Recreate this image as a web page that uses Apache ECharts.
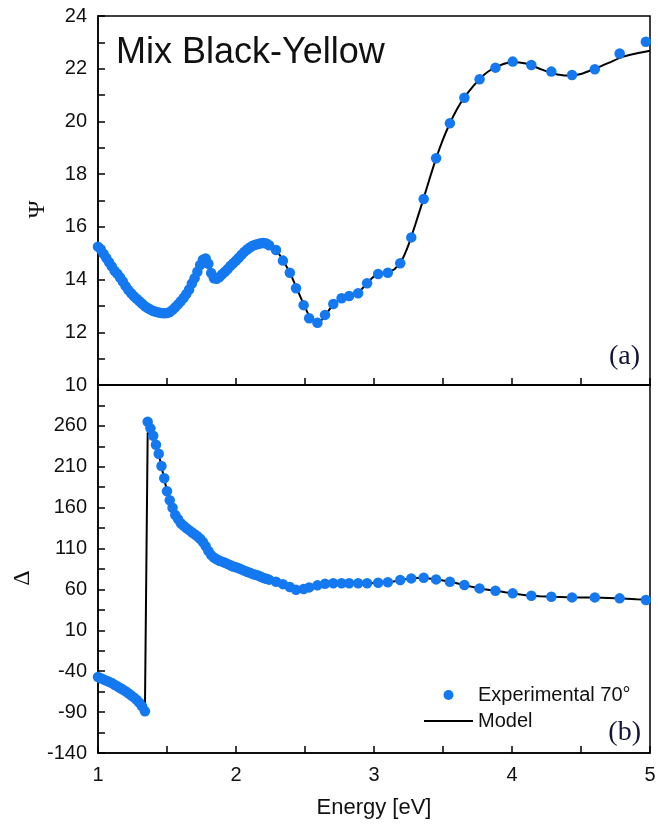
<!DOCTYPE html>
<html>
<head>
<meta charset="utf-8">
<script src="https://cdn.jsdelivr.net/npm/echarts@6/dist/echarts.min.js"></script>
<style>
  html, body { margin: 0; padding: 0; background: #fff; }
  #chart { width: 658px; height: 835px; }
</style>
</head>
<body>
<div id="chart"></div>
<script>
// experimental points, photon energy in eV (shared by both panels)
const energy = [
  1.00, 1.02, 1.04, 1.06, 1.08, 1.10, 1.12, 1.14, 1.16, 1.18, 1.20, 1.22, 1.24, 1.26, 1.28, 1.30,
  1.32, 1.34, 1.36, 1.38, 1.40, 1.42, 1.44, 1.46, 1.48, 1.50, 1.52, 1.54, 1.56, 1.58, 1.60, 1.62,
  1.64, 1.66, 1.68, 1.70, 1.72, 1.74, 1.76, 1.78, 1.80, 1.82, 1.84, 1.86, 1.88, 1.90, 1.92, 1.94,
  1.96, 1.98, 2.00, 2.02, 2.04, 2.06, 2.08, 2.10, 2.12, 2.14, 2.16, 2.18, 2.20, 2.22, 2.24,
  2.29, 2.34, 2.39, 2.435, 2.49, 2.53, 2.59, 2.645, 2.705, 2.765, 2.82, 2.885, 2.95, 3.03, 3.10,
  3.19, 3.27, 3.36, 3.45, 3.55, 3.655, 3.765, 3.88, 4.005, 4.14, 4.285, 4.435, 4.60, 4.78, 4.97
];
const psi = [
  15.25, 15.15, 14.98, 14.82, 14.66, 14.50, 14.33, 14.22, 14.08, 13.93, 13.75, 13.60, 13.48, 13.37, 13.27, 13.18,
  13.08, 12.99, 12.92, 12.86, 12.81, 12.78, 12.75, 12.73, 12.72, 12.73, 12.77, 12.85, 12.95, 13.06, 13.18, 13.30,
  13.45, 13.62, 13.85, 14.05, 14.30, 14.55, 14.75, 14.80, 14.60, 14.25, 14.05, 14.03, 14.10, 14.20, 14.30, 14.40,
  14.52, 14.62, 14.72, 14.83, 14.94, 15.05, 15.14, 15.22, 15.28, 15.32, 15.35, 15.38, 15.39, 15.37, 15.30,
  15.12, 14.72, 14.26, 13.67, 13.03, 12.53, 12.36, 12.66, 13.07, 13.29, 13.38, 13.48, 13.86, 14.21, 14.26,
  14.62, 15.60, 17.06, 18.60, 19.93, 20.90, 21.60, 22.04, 22.27, 22.14, 21.89, 21.76, 21.98, 22.58, 23.02
];
const delta = [
  -47, -48.5, -50, -51.5, -53, -54.5, -56.5, -58.5, -60.5, -62.5, -64.5, -67, -69.5, -72, -75, -78.5,
  -83, -89, 265, 257, 248, 237, 226, 211, 196, 180, 169, 160, 151, 146, 141, 138,
  135, 132.5, 130, 127.5, 125, 122, 118, 113, 107, 102, 99, 97, 95, 94, 92.5, 91,
  89.5, 88, 87, 86, 84.5, 83, 81.5, 80.5, 79, 78, 77, 75.5, 74, 73, 72,
  69.5, 66.5, 63, 59.5, 60.5, 62.5, 65, 67, 67.5, 67.5, 67.5, 67.5, 67.5, 68.2, 68.7,
  71.5, 73.5, 74.3, 72.3, 69.4, 65.4, 61.3, 58.4, 55.2, 52.3, 51.1, 50.3, 50.3, 49.1, 47
];

// fitted model curves
const modelEnergy = [
  1.00, 1.05, 1.10, 1.15, 1.20, 1.25, 1.30, 1.34, 1.36, 1.40, 1.45, 1.50, 1.55, 1.60, 1.65, 1.70,
  1.74, 1.77, 1.79, 1.82, 1.85, 1.90, 1.95, 2.00, 2.05, 2.10, 2.15, 2.20, 2.25, 2.30, 2.35, 2.40,
  2.45, 2.50, 2.55, 2.60, 2.65, 2.70, 2.75, 2.80, 2.85, 2.90, 2.95, 3.00, 3.05, 3.10, 3.15, 3.20,
  3.25, 3.30, 3.35, 3.40, 3.45, 3.50, 3.55, 3.60, 3.65, 3.70, 3.75, 3.80, 3.85, 3.90, 3.95, 4.00,
  4.10, 4.20, 4.30, 4.40, 4.50, 4.60, 4.70, 4.80, 4.90, 5.00
];
const psiModel = [
  15.25, 14.90, 14.50, 14.15, 13.75, 13.42, 13.18, 12.99, 12.92, 12.81, 12.74, 12.73, 12.90, 13.18, 13.53, 14.05,
  14.55, 14.78, 14.70, 14.25, 14.04, 14.20, 14.46, 14.72, 15.00, 15.22, 15.34, 15.39, 15.28, 15.05, 14.65, 14.15,
  13.55, 12.95, 12.45, 12.38, 12.66, 13.03, 13.25, 13.36, 13.43, 13.58, 13.86, 14.12, 14.22, 14.28, 14.40, 14.72,
  15.32, 16.10, 16.92, 17.78, 18.60, 19.32, 19.93, 20.45, 20.88, 21.22, 21.52, 21.78, 21.97, 22.10, 22.20, 22.25,
  22.20, 22.00, 21.82, 21.74, 21.80, 22.00, 22.22, 22.45, 22.58, 22.68
];
const deltaModel = [
  -47, -51, -54.5, -59.5, -64.5, -70.5, -78.5, -88, 252, 246, 218, 180, 155, 141, 133.5, 127.5,
  122, 116, 110, 102, 98, 94, 90, 87, 83.8, 80.5, 77.5, 74, 71.5, 69, 66, 63,
  61, 61, 63, 65.5, 67, 67.5, 67.5, 67.5, 67.5, 67.5, 67.5, 68, 68.3, 68.7, 70, 71.7,
  73, 74, 74.3, 73.5, 72.3, 71, 69.4, 67.5, 65.5, 63.5, 61.8, 60.3, 59, 58, 56.5, 55.2,
  53, 51.8, 51, 50.5, 50.2, 50, 49.5, 48.8, 48, 47.3
];

const SANS = "Liberation Sans, Arial, sans-serif";
const SERIF = "Liberation Serif, Times New Roman, serif";
const DOT = "#1479f0";

const pair = (xs, ys) => xs.map((x, i) => [x, ys[i]]);

const tick = { inside: true, length: 7, lineStyle: { color: "#000", width: 1.5 } };
const minor = { show: true, splitNumber: 2, length: 7, lineStyle: { color: "#000", width: 1.5 } };
const line = { show: true, onZero: false, lineStyle: { color: "#000", width: 1.5 } };

function xAxis(gridIndex, labels) {
  return {
    type: "value", gridIndex, min: 1, max: 5, interval: 1,
    axisLine: line, axisTick: tick, minorTick: minor,
    splitLine: { show: false },
    axisLabel: { show: labels, color: "#111", fontFamily: SANS, fontSize: 20, margin: 12 },
    name: labels ? "Energy [eV]" : "",
    nameLocation: "middle", nameGap: 44,
    nameTextStyle: { color: "#111", fontFamily: SANS, fontSize: 22 },
  };
}

const chart = echarts.init(document.getElementById("chart"));
chart.setOption({
  animation: false,
  backgroundColor: "#fff",
  title: {
    text: "Mix Black-Yellow", left: 111, top: 30,
    textStyle: { fontFamily: SANS, fontSize: 36, fontWeight: "normal", color: "#111" },
  },
  legend: {
    orient: "vertical", left: 423, top: 685, padding: 0,
    itemWidth: 49, itemHeight: 10, itemGap: 6,
    textStyle: { fontFamily: SANS, fontSize: 20, color: "#111" },
    data: [
      { name: "Experimental 70°", icon: "circle" },
      { name: "Model", itemStyle: { opacity: 0 } },
    ],
  },
  grid: [
    { left: 98, top: 16, width: 552, height: 369, show: true, borderColor: "#000", borderWidth: 1.5, outerBoundsMode: "none" },
    { left: 98, top: 385, width: 552, height: 368, show: true, borderColor: "#000", borderWidth: 1.5, outerBoundsMode: "none" },
  ],
  xAxis: [xAxis(0, false), xAxis(1, true)],
  yAxis: [
    {
      type: "value", gridIndex: 0, min: 10, max: 24, interval: 2,
      axisLine: line, axisTick: tick, minorTick: minor, splitLine: { show: false },
      axisLabel: { color: "#111", fontFamily: SANS, fontSize: 20, margin: 11 },
      name: "Ψ", nameLocation: "middle", nameGap: 48,
      nameTextStyle: { color: "#111", fontFamily: SERIF, fontSize: 24, padding: [0, 18, 0, 0] },
    },
    {
      type: "value", gridIndex: 1, min: -140, max: 310, interval: 50,
      axisLine: line, axisTick: tick, minorTick: minor, splitLine: { show: false },
      axisLabel: {
        color: "#111", fontFamily: SANS, fontSize: 20, margin: 11,
        formatter: (v) => (v === 310 ? "" : String(v)),
      },
      name: "Δ", nameLocation: "middle", nameGap: 63,
      nameTextStyle: { color: "#111", fontFamily: SERIF, fontSize: 24, padding: [0, 18, 0, 0] },
    },
  ],
  graphic: [
    { type: "text", right: 18, top: 343, style: { text: "(a)", font: "28px " + SERIF, fill: "#14143a" } },
    { type: "text", right: 17, top: 719, style: { text: "(b)", font: "28px " + SERIF, fill: "#14143a" } },
  ],
  series: [
    {
      name: "Model", type: "line", xAxisIndex: 0, yAxisIndex: 0, z: 2,
      data: pair(modelEnergy, psiModel), symbol: "none", smooth: 0.2,
      lineStyle: { color: "#000", width: 2 }, itemStyle: { color: "#000" },
    },
    {
      name: "Experimental 70°", type: "scatter", xAxisIndex: 0, yAxisIndex: 0, z: 3,
      data: pair(energy, psi), symbol: "circle", symbolSize: 10.5,
      itemStyle: { color: DOT, opacity: 1 },
    },
    {
      name: "Model", type: "line", xAxisIndex: 1, yAxisIndex: 1, z: 2,
      data: pair(modelEnergy, deltaModel), symbol: "none",
      lineStyle: { color: "#000", width: 2 }, itemStyle: { color: "#000" },
    },
    {
      name: "Experimental 70°", type: "scatter", xAxisIndex: 1, yAxisIndex: 1, z: 3,
      data: pair(energy, delta), symbol: "circle", symbolSize: 10.5,
      itemStyle: { color: DOT, opacity: 1 },
    },
  ],
});
</script>
</body>
</html>
